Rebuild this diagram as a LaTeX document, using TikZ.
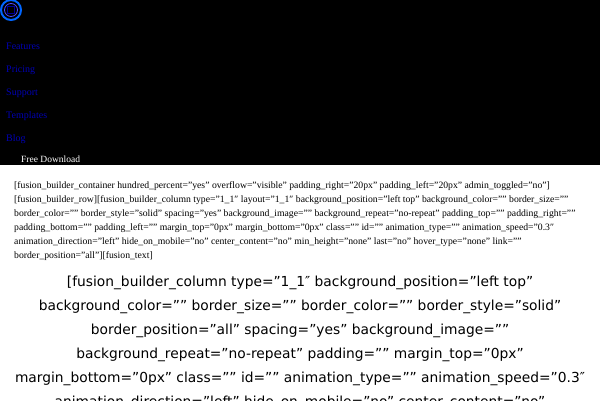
\documentclass[tikz,border=0pt]{standalone}
\usepackage{fontspec}
\setmainfont{Liberation Serif}
\newfontfamily\bigfont{DejaVu Sans}
\usepackage{tikz}
\usetikzlibrary{positioning}

\begin{document}
\begin{tikzpicture}[x=1pt, y=-1pt, font=\fontsize{9.7}{11}\selectfont,
	menu/.style = {anchor=west, inner sep=0pt, text=blue!70!black, font=\fontsize{10}{11}\selectfont},
	small/.style = {anchor=west, inner sep=0pt},
	big/.style = {inner sep=0pt, font=\bigfont\fontsize{13.8}{16}\selectfont}]

\useasboundingbox (0,0) rectangle (600,400);
\clip (0,0) rectangle (600,400);
\fill[black] (0,0) rectangle (600,165);

% logo
\node[circle, draw=blue!60!cyan, line width=2pt, minimum size=20pt, inner sep=0pt] (logo) at (11,10) {};
\node[circle, draw=blue!70!white, line width=0.8pt, minimum size=13pt, inner sep=0pt] (logoring) at (logo) {};
\node[draw=blue!60!black, line width=1pt, minimum size=7pt, inner sep=0pt] (logobox) at (logo) {};

% menu
\node[menu]		(features)	at (6,46)	{Features};
\node[menu]		(pricing)	at (6,70)	{Pricing};
\node[menu]		(support)	at (6,93)	{Support};
\node[menu]		(templates)	at (6,116)	{Templates};
\node[menu]		(blog)		at (6,139)	{Blog};
\node[small, text=white, font=\fontsize{9.5}{10}\selectfont] (download) at (21,159) {Free Download};

% shortcode text
\node[small]	(s1)	at (14,186)	{[fusion\_builder\_container hundred\_percent=”yes” overflow=”visible” padding\_right=”20px” padding\_left=”20px” admin\_toggled=”no”]};
\node[small]	(s2)	at (14,200)	{[fusion\_builder\_row][fusion\_builder\_column type=”1\_1″ layout=”1\_1″ background\_position=”left top” background\_color=”” border\_size=””};
\node[small]	(s3)	at (14,214)	{border\_color=”” border\_style=”solid” spacing=”yes” background\_image=”” background\_repeat=”no-repeat” padding\_top=”” padding\_right=””};
\node[small]	(s4)	at (14,228)	{padding\_bottom=”” padding\_left=”” margin\_top=”0px” margin\_bottom=”0px” class=”” id=”” animation\_type=”” animation\_speed=”0.3″};
\node[small]	(s5)	at (14,242)	{animation\_direction=”left” hide\_on\_mobile=”no” center\_content=”no” min\_height=”none” last=”no” hover\_type=”none” link=””};
\node[small]	(s6)	at (14,256)	{border\_position=”all”][fusion\_text]};

\node[big]	(b1)	at (300,283)	{[fusion\_builder\_column type=”1\_1″ background\_position=”left top”};
\node[big]	(b2)	at (300,307)	{background\_color=”” border\_size=”” border\_color=”” border\_style=”solid”};
\node[big]	(b3)	at (300,331)	{border\_position=”all” spacing=”yes” background\_image=””};
\node[big]	(b4)	at (300,355)	{background\_repeat=”no-repeat” padding=”” margin\_top=”0px”};
\node[big]	(b5)	at (300,379)	{margin\_bottom=”0px” class=”” id=”” animation\_type=”” animation\_speed=”0.3″};
\node[big]	(b6)	at (300,403)	{animation\_direction=”left” hide\_on\_mobile=”no” center\_content=”no”};

\end{tikzpicture}
\end{document}
